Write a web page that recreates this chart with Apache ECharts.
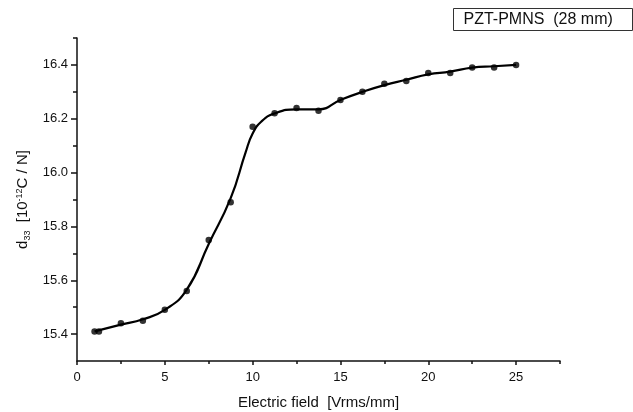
<!DOCTYPE html>
<html>
<head>
<meta charset="utf-8">
<script src="https://cdn.jsdelivr.net/npm/echarts@6/dist/echarts.min.js"></script>
<style>
  html, body { margin: 0; padding: 0; background: #fff; }
  #chart { width: 633px; height: 412px; }
</style>
</head>
<body>
<div id="chart"></div>
<script>
  // measured points: electric field [Vrms/mm] vs d33 [1e-12 C/N]
  const fieldValues = [1, 1.25, 2.5, 3.75, 5, 6.25, 7.5, 8.75, 10, 11.25, 12.5, 13.75, 15, 16.25, 17.5, 18.75, 20, 21.25, 22.5, 23.75, 25];
  const d33Values = [15.41, 15.41, 15.44, 15.45, 15.49, 15.56, 15.75, 15.89, 16.17, 16.22, 16.24, 16.23, 16.27, 16.30, 16.33, 16.34, 16.37, 16.37, 16.39, 16.39, 16.40];

  // fitted curve
  const fitField = [1, 2.5, 3.75, 5, 6.25, 7.5, 8.75, 9.6, 10, 10.5, 11.25, 12.5, 13.75, 15, 16.25, 17.5, 18.75, 20, 21.25, 22.5, 23.75, 25];
  const fitD33 = [15.41, 15.435, 15.455, 15.49, 15.565, 15.735, 15.905, 16.075, 16.145, 16.19, 16.22, 16.235, 16.235, 16.27, 16.30, 16.325, 16.345, 16.365, 16.375, 16.39, 16.395, 16.40];

  const xMajorTicks = [0, 5, 10, 15, 20, 25];
  const xMinorTicks = [2.5, 7.5, 12.5, 17.5, 22.5, 27.5];
  const yMajorTicks = [15.4, 15.6, 15.8, 16.0, 16.2, 16.4];
  const yMinorTicks = [15.5, 15.7, 15.9, 16.1, 16.3, 16.5];

  const legendText = "PZT-PMNS  (28 mm)";

  const FONT = "Liberation Sans, Arial, sans-serif";
  const INK = "#111";

  const chart = echarts.init(document.getElementById("chart"), null, { renderer: "canvas" });

  const baseX = { type: "value", position: "bottom", min: 0, max: 27.5, interval: 2.5, splitLine: { show: false } };
  const baseY = { type: "value", position: "left", min: 15.3, max: 16.5, interval: 0.1, splitLine: { show: false } };

  chart.setOption({
    animation: false,
    backgroundColor: "#fff",
    grid: { left: 77, right: 73, top: 38, bottom: 51, outerBoundsMode: "none", containLabel: false },
    xAxis: [
      Object.assign({}, baseX, {
        name: "Electric field  [Vrms/mm]",
        nameLocation: "middle",
        nameGap: 34,
        nameTextStyle: { fontFamily: FONT, fontSize: 15, color: INK },
        axisLine: { lineStyle: { color: INK, width: 1.5 } },
        axisTick: { customValues: xMajorTicks, length: 4, lineStyle: { color: INK, width: 1.5 } },
        axisLabel: {
          customValues: xMajorTicks,
          margin: 10,
          fontFamily: FONT,
          fontSize: 13,
          color: INK,
        },
      }),
      Object.assign({}, baseX, {
        axisLine: { show: false },
        axisTick: { customValues: xMinorTicks, length: 3, lineStyle: { color: INK, width: 1.5 } },
        axisLabel: { show: false },
      }),
    ],
    yAxis: [
      Object.assign({}, baseY, {
        name: "d{sub|33}  [10{sup|-12}C / N]",
        nameLocation: "middle",
        nameRotate: 90,
        nameGap: 45,
        nameTextStyle: {
          fontFamily: FONT,
          fontSize: 15,
          color: INK,
          rich: {
            sub: { fontFamily: FONT, fontSize: 9, color: INK, padding: [8, 0, 0, 0] },
            sup: { fontFamily: FONT, fontSize: 9, color: INK, padding: [0, 0, 8, 0] },
          },
        },
        axisLine: { lineStyle: { color: INK, width: 1.5 } },
        axisTick: { customValues: yMajorTicks, length: 6, lineStyle: { color: INK, width: 1.5 } },
        axisLabel: {
          customValues: yMajorTicks,
          margin: 9,
          fontFamily: FONT,
          fontSize: 13,
          color: INK,
          formatter: (v) => v.toFixed(1),
        },
      }),
      Object.assign({}, baseY, {
        axisLine: { show: false },
        axisTick: { customValues: yMinorTicks, length: 4, lineStyle: { color: INK, width: 1.5 } },
        axisLabel: { show: false },
      }),
    ],
    graphic: [
      {
        type: "group",
        left: 453,
        top: 8,
        children: [
          {
            type: "rect",
            shape: { x: 0, y: 0, width: 179, height: 22 },
            style: { fill: "#fff", stroke: "#333", lineWidth: 1 },
          },
          {
            type: "text",
            x: 10,
            y: 3,
            style: { text: legendText, font: "16px " + FONT, fill: INK },
          },
        ],
      },
    ],
    series: [
      {
        name: "fit",
        type: "line",
        data: fitField.map((x, i) => [x, fitD33[i]]),
        smooth: 0.5,
        symbol: "none",
        lineStyle: { color: "#000", width: 2.2 },
        z: 2,
      },
      {
        name: "measured",
        type: "scatter",
        data: fieldValues.map((x, i) => [x, d33Values[i]]),
        symbol: "circle",
        symbolSize: 6.5,
        itemStyle: { color: "#000" },
        z: 3,
      },
    ],
  });
</script>
</body>
</html>
